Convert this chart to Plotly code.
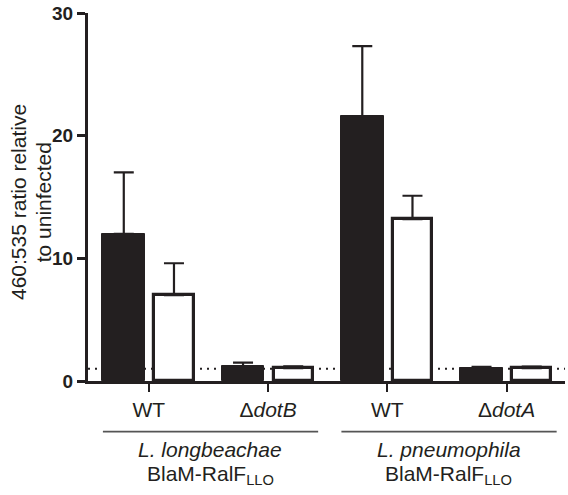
import plotly.graph_objects as go

# ---- data ----
categories = ["WT", "Δ<i>dotB</i>", "WT", "Δ<i>dotA</i>"]
black_values = [12.0, 1.2, 21.6, 1.1]
black_errors = [5.0, 0.3, 5.7, 0.05]
white_values = [7.0, 1.05, 13.2, 1.05]
white_errors = [2.6, 0.15, 1.9, 0.13]
group_names = ["<i>L. longbeachae</i>", "<i>L. pneumophila</i>"]
group_constructs = ["BlaM-RalF<sub>LLO</sub>", "BlaM-RalF<sub>LLO</sub>"]
group_spans = [(0, 1), (2, 3)]
y_ticks = [0, 10, 20, 30]
y_title_lines = ["460:535 ratio relative", "to uninfected"]
baseline = 1.0

INK = "#231f20"
FONT = "Arial, Liberation Sans, Helvetica, sans-serif"

xpos = list(range(len(categories)))

fig = go.Figure()
fig.add_trace(go.Bar(
    x=xpos, y=black_values, width=0.36, offset=-0.39,
    marker=dict(color=INK, line=dict(color=INK, width=1)),
    error_y=dict(type="data", array=black_errors, arrayminus=[0] * 4,
                 symmetric=False, color=INK, thickness=2.2, width=10),
    showlegend=False,
))
fig.add_trace(go.Bar(
    x=xpos, y=white_values, width=0.33, offset=0.046,
    marker=dict(color="white", line=dict(color=INK, width=3.2)),
    error_y=dict(type="data", array=white_errors, arrayminus=[0] * 4,
                 symmetric=False, color=INK, thickness=2.2, width=10),
    showlegend=False,
))

# dotted reference line at y = 1
fig.add_shape(type="line", xref="paper", x0=0, x1=1, yref="y", y0=baseline, y1=baseline,
              line=dict(color=INK, width=2, dash="2px,5px"), layer="below")

# group underlines and labels
for (a, b), name, construct in zip(group_spans, group_names, group_constructs):
    fig.add_shape(type="line", xref="x", x0=a - 0.385, x1=b + 0.42,
                  yref="paper", y0=-0.1375, y1=-0.1375,
                  line=dict(color="#555555", width=1.6))
    fig.add_annotation(x=(a + b) / 2 + 0.015, xref="x", y=-0.185, yref="paper",
                       text=name, showarrow=False, yanchor="middle",
                       font=dict(family=FONT, size=21, color=INK))
    fig.add_annotation(x=(a + b) / 2 + 0.015, xref="x", y=-0.255, yref="paper",
                       text=construct, showarrow=False, yanchor="middle",
                       font=dict(family=FONT, size=21, color=INK))

# y-axis title (two lines)
for xp, line in zip([-0.147, -0.094], y_title_lines):
    fig.add_annotation(x=xp, xref="paper", y=0.486, yref="paper",
                       text=line, textangle=-90,
                       showarrow=False, xanchor="center", yanchor="middle",
                       font=dict(family=FONT, size=21, color=INK))

fig.update_layout(
    width=568, height=495,
    margin=dict(l=88, r=3, t=10, b=114),
    paper_bgcolor="white", plot_bgcolor="white",
    bargap=0, barmode="overlay",
    font=dict(family=FONT, color=INK),
)
fig.update_xaxes(
    range=[-0.51, 3.49], tickvals=xpos, ticktext=categories,
    showline=True, linecolor=INK, linewidth=2.5,
    ticks="outside", ticklen=8, tickwidth=2, tickcolor=INK,
    tickfont=dict(family=FONT, size=21, color=INK),
    showgrid=False, zeroline=False, ticklabeloverflow="allow",
)
fig.update_yaxes(
    range=[0, 30], tickvals=y_ticks,
    showline=True, linecolor=INK, linewidth=3,
    ticks="outside", ticklen=8, tickwidth=2.5, tickcolor=INK,
    tickfont=dict(family=FONT, size=19, color=INK, weight="bold"),
    showgrid=False, zeroline=False, ticklabeloverflow="allow",
)

fig.write_html("out.html", config={"displayModeBar": False},
               post_script="document.body.style.margin='0px';")
